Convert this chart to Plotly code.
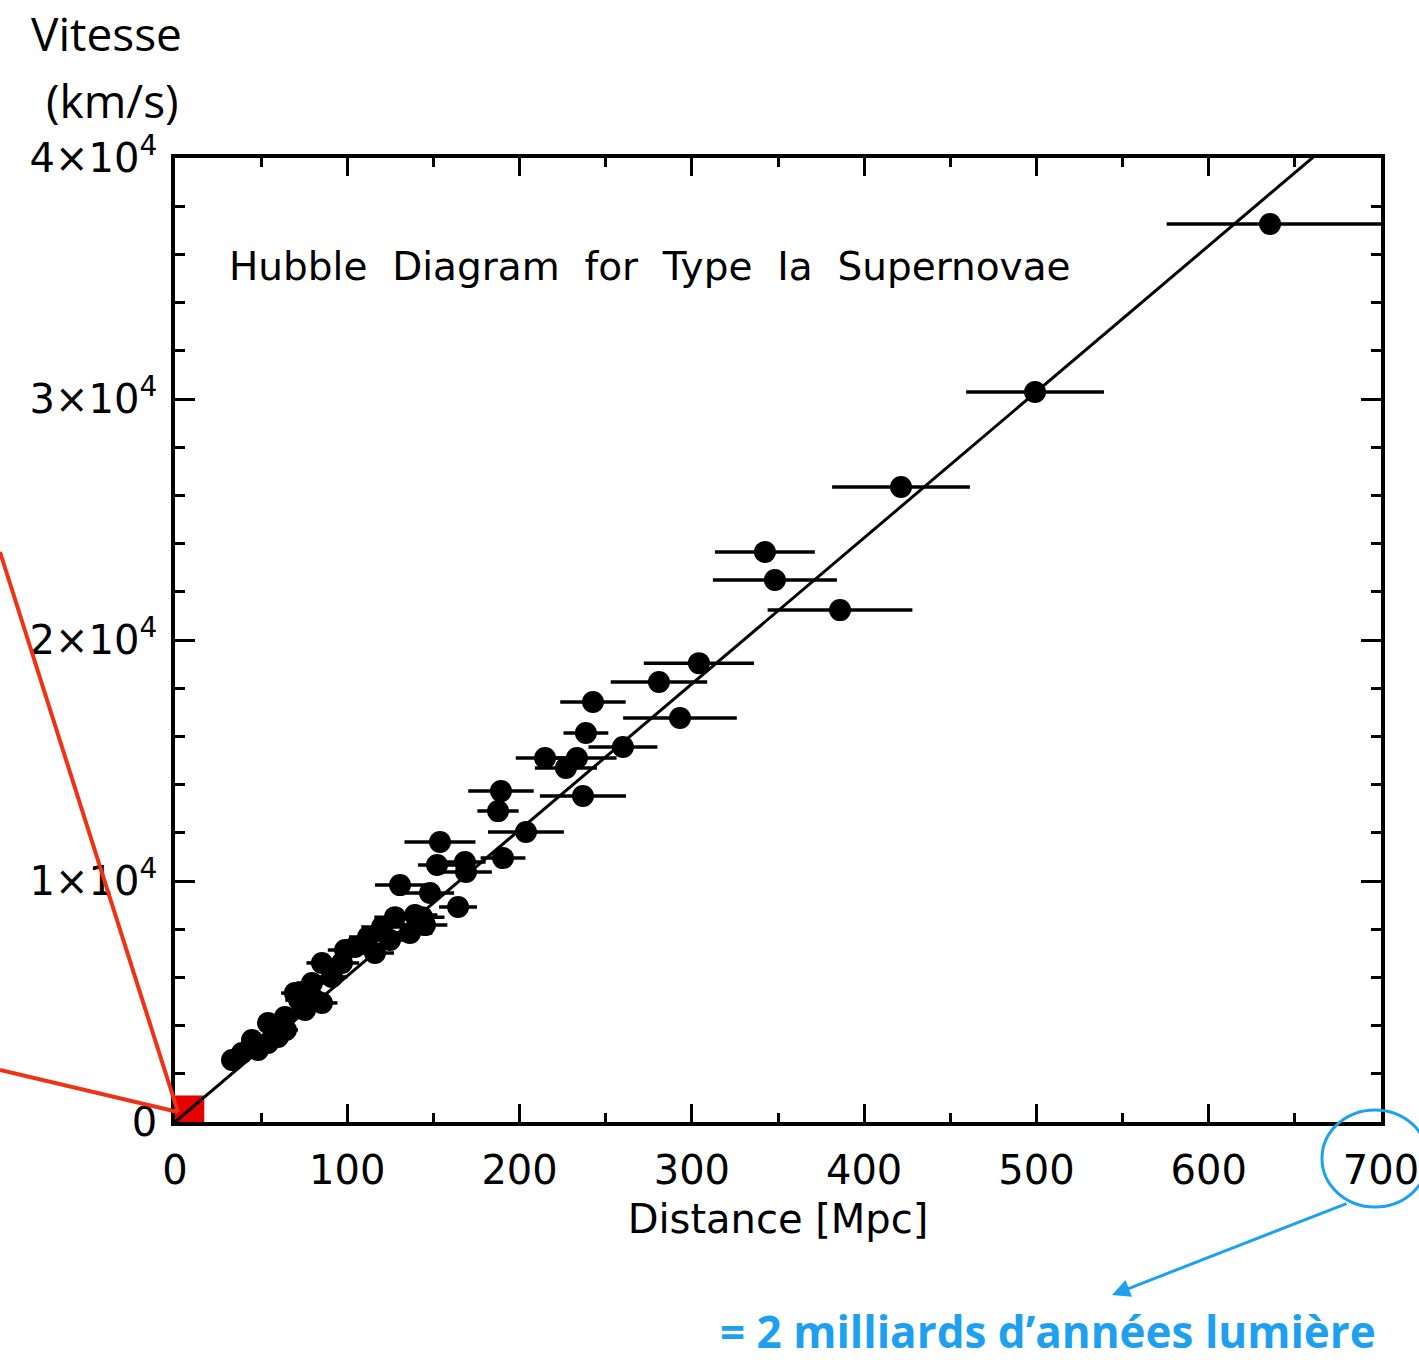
import plotly.graph_objects as go

# ---- data ----
distance_mpc = [33.1, 38.9, 44.7, 48.2, 54.0, 59.8, 54.0, 58.0, 63.8, 64.4,
                69.6, 72.0, 75.5, 79.5, 81.3, 85.3, 85.3, 91.1, 96.9, 98.7,
                104.5, 112.0, 116.1, 120.1, 124.8, 127.7, 136.4, 139.3, 143.4, 145.1,
                148.0, 130.6, 152.1, 153.8, 164.3, 168.3, 168.9, 190.4, 187.5, 189.2,
                203.7, 214.8, 226.9, 233.3, 236.8, 238.5, 242.6, 260.0, 280.9, 293.1,
                304.1, 342.4, 348.2, 386.0, 421.4, 499.2, 635.6]
velocity_kms = [2570, 2860, 3400, 2990, 3280, 3530, 4110, 3940, 4360, 3820,
                5350, 5060, 4650, 5770, 5060, 6600, 4940, 6020, 6600, 7140,
                7260, 7680, 7010, 8090, 7550, 8500, 7840, 8590, 8500, 8170,
                9500, 9830, 10660, 11620, 8920, 10790, 10370, 10950, 12900, 13730,
                12030, 15100, 14690, 15100, 13530, 16140, 17430, 15560, 18260, 16760,
                19040, 23650, 22490, 21240, 26350, 30290, 37260]
dist_err_plus = [5, 5, 6, 6, 6, 7, 6, 7, 7, 7,
                 8, 8, 8, 9, 9, 9, 9, 9, 10, 10,
                 10, 11, 11, 12, 12, 12, 13, 13, 13, 13,
                 14, 14.5, 11, 20.6, 11, 12, 15, 13, 12, 19,
                 22, 17, 18, 23, 25, 13, 19, 20, 28, 33,
                 32, 29, 36, 42, 40, 40, 66]
dist_err_minus = [5, 5, 6, 6, 6, 7, 6, 7, 7, 7,
                  8, 8, 8, 9, 9, 9, 9, 9, 10, 10,
                  10, 11, 11, 12, 12, 12, 13, 13, 13, 13,
                  14, 14.5, 11, 20.6, 11, 12, 15, 13, 12, 19,
                  22, 17, 18, 23, 25, 13, 19, 20, 28, 33,
                  32, 29, 36, 42, 40, 40, 60]
hubble_const = 60.6          # slope of the fitted line, km/s/Mpc
fit_distance = [0, 700]

x_ticks = [0, 100, 200, 300, 400, 500, 600, 700]
y_ticks = [0, 10000, 20000, 30000, 40000]
y_tick_labels = ["0", "1×10<sup>4</sup>", "2×10<sup>4</sup>", "3×10<sup>4</sup>", "4×10<sup>4</sup>"]

# ---- layout geometry (pixels) ----
W, H = 1419, 1360
L, R, T, B = 175, 1381, 158, 1122
PW, PH = R - L, B - T


def px(xp):
    return (xp - L) / PW


def py(yp):
    return (B - yp) / PH


fig = go.Figure()

fig.add_trace(go.Scatter(
    x=fit_distance, y=[hubble_const * d for d in fit_distance],
    mode="lines", line=dict(color="black", width=3), showlegend=False, hoverinfo="skip"))

fig.add_trace(go.Scatter(
    x=distance_mpc, y=velocity_kms, mode="markers",
    marker=dict(color="black", size=22),
    error_x=dict(type="data", array=dist_err_plus, arrayminus=dist_err_minus,
                 color="black", thickness=3.5, width=0),
    showlegend=False))

axis_font = dict(family="DejaVu Sans", size=40, color="black")

fig.update_xaxes(
    range=[0, 700], tickvals=x_ticks, ticks="inside", ticklen=18, tickwidth=2.5,
    tickcolor="black", showline=True, linewidth=3.5, linecolor="black", mirror="allticks",
    showgrid=False, zeroline=False, tickfont=axis_font, ticklabelstandoff=10,
    ticklabeloverflow="allow",
    minor=dict(dtick=50, ticks="inside", ticklen=9, tickwidth=2.5, tickcolor="black", showgrid=False),
    title=dict(text="Distance [Mpc]", font=axis_font, standoff=14))

fig.update_yaxes(
    range=[0, 40000], tickvals=y_ticks, ticktext=y_tick_labels, ticks="inside", ticklen=20,
    tickwidth=2.5, tickcolor="black", showline=True, linewidth=3.5, linecolor="black",
    mirror="allticks", showgrid=False, zeroline=False, tickfont=axis_font, ticklabelstandoff=6,
    ticklabeloverflow="allow",
    minor=dict(dtick=2000, ticks="inside", ticklen=10, tickwidth=2.5, tickcolor="black", showgrid=False))

red = "rgb(240,50,20)"
blue = "rgb(30,160,240)"

fig.update_layout(
    width=W, height=H, margin=dict(l=L, r=W - R, t=T, b=H - B, autoexpand=False),
    paper_bgcolor="white", plot_bgcolor="white",
    shapes=[
        dict(type="rect", xref="x", yref="y", x0=0, x1=17, y0=0, y1=1100,
             fillcolor="rgb(230,0,0)", line=dict(width=0), layer="below"),
        dict(type="line", xref="paper", yref="paper", x0=px(0), y0=py(552), x1=px(178), y1=py(1112),
             line=dict(color=red, width=4)),
        dict(type="line", xref="paper", yref="paper", x0=px(0), y0=py(1070), x1=px(178), y1=py(1112),
             line=dict(color=red, width=4)),
        dict(type="circle", xref="paper", yref="paper", x0=px(1322), x1=px(1428), y0=py(1207), y1=py(1110),
             line=dict(color=blue, width=3)),
    ],
    annotations=[
        dict(text="Hubble  Diagram  for  Type  Ia  Supernovae", xref="paper", yref="paper",
             x=px(227), y=py(266), xanchor="left", yanchor="middle", showarrow=False,
             font=dict(family="DejaVu Sans", size=39, color="black")),
        dict(text="Vitesse", xref="paper", yref="paper", x=px(106), y=py(33),
             xanchor="center", yanchor="middle", showarrow=False,
             font=dict(family="Open Sans", size=46, color="black")),
        dict(text="(km/s)", xref="paper", yref="paper", x=px(112), y=py(100),
             xanchor="center", yanchor="middle", showarrow=False,
             font=dict(family="Open Sans", size=46, color="black")),
        dict(text="<b>= 2 milliards d’années lumière</b>", xref="paper", yref="paper",
             x=px(1048), y=py(1331), xanchor="center", yanchor="middle", showarrow=False,
             borderpad=0, font=dict(family="Open Sans", size=44, color=blue)),
        dict(text="", xref="paper", yref="paper", x=px(1112), y=py(1295),
             ax=236, ay=-92, showarrow=True, arrowhead=2, arrowsize=1.2, arrowwidth=3,
             arrowcolor=blue),
    ],
)

fig.write_html("out.html")
